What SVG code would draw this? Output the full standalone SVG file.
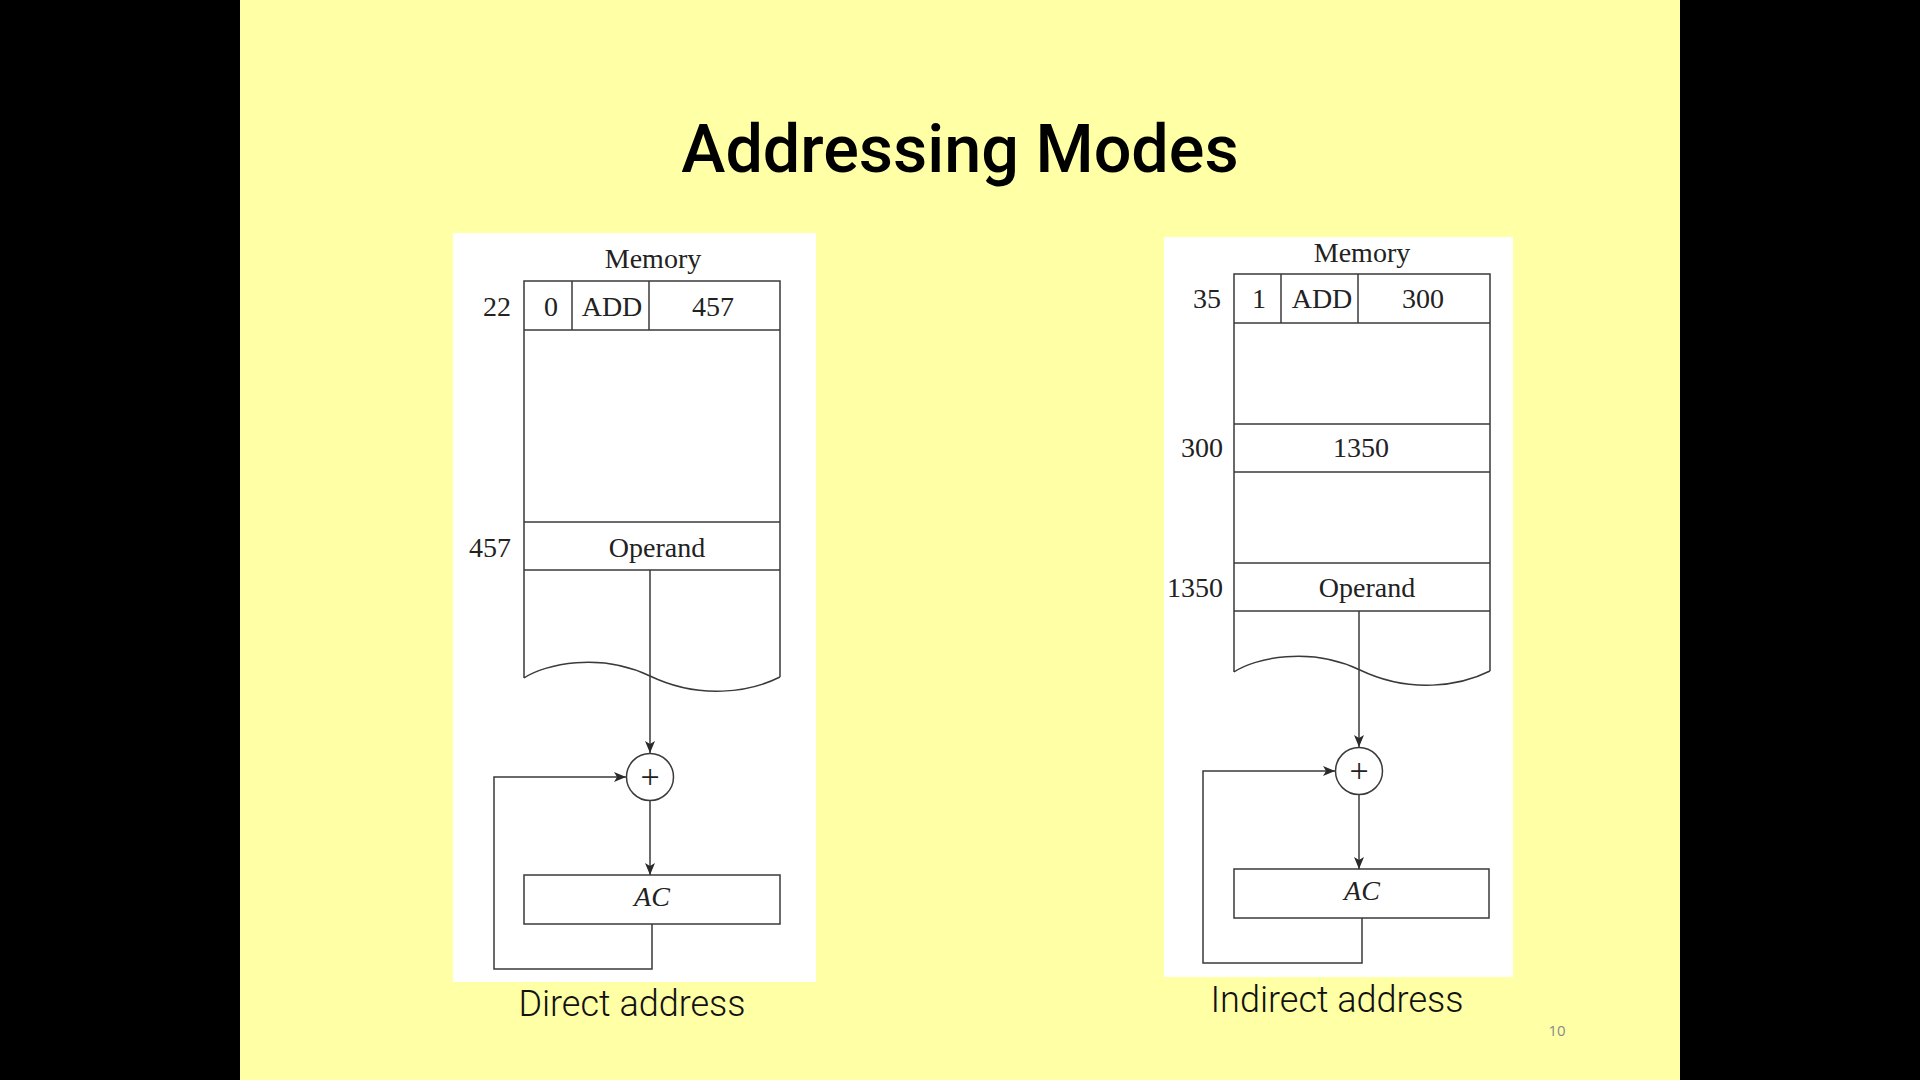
<svg xmlns="http://www.w3.org/2000/svg" width="1920" height="1080" viewBox="0 0 1920 1080">
<style>
.ln{fill:none;stroke:#3a3a3a;stroke-width:1.5}
.cell{fill:#fff;stroke:#3a3a3a;stroke-width:1.5}
.sf{font-family:"Liberation Serif",serif;font-size:28px;fill:#222}
.plus{font-family:"Liberation Serif",serif;font-size:34px;fill:#222;text-anchor:middle}
.mid{text-anchor:middle}
.end{text-anchor:end}
.cap{font-family:Roboto,"Liberation Sans",sans-serif;font-weight:300;font-size:36px;fill:#111;text-anchor:middle}
</style>
<defs>
<marker id="ah" viewBox="0 0 12 10" refX="12" refY="5" markerWidth="12" markerHeight="10" markerUnits="userSpaceOnUse" orient="auto">
<path d="M0,0 L12,5 L0,10 L3,5 Z" fill="#2a2a2a"/>
</marker>
</defs>
<rect width="1920" height="1080" fill="#ffffa6"/>
<rect x="0" y="0" width="240" height="1080" fill="#000"/>
<rect x="1680" y="0" width="240" height="1080" fill="#000"/>
<text x="960" y="172" font-family="Roboto,'Liberation Sans',sans-serif" font-weight="500" font-size="66.5" text-anchor="middle" fill="#000">Addressing Modes</text>

<!-- LEFT: Direct address -->
<g id="panel-direct">
<rect x="453" y="233" width="363" height="749" fill="#fff"/>
<text class="sf mid" x="653" y="268">Memory</text>
<g id="mem-direct">
<path class="ln" d="M524,678 L524,281 L780,281 L780,677 M524,678 C545,664 600,652 650,676 C700,700 750,692 780,677"/>
<line class="ln" x1="524" y1="330" x2="780" y2="330"/>
<line class="ln" x1="572" y1="281" x2="572" y2="330"/>
<line class="ln" x1="649" y1="281" x2="649" y2="330"/>
<line class="ln" x1="524" y1="522" x2="780" y2="522"/>
<line class="ln" x1="524" y1="570" x2="780" y2="570"/>
<text class="sf end" x="511" y="316">22</text>
<text class="sf mid" x="551" y="316">0</text>
<text class="sf mid" x="612" y="316">ADD</text>
<text class="sf mid" x="713" y="316">457</text>
<text class="sf end" x="511" y="557">457</text>
<text class="sf mid" x="657" y="557">Operand</text>
</g>
<g id="adder-direct">
<circle class="cell" cx="650" cy="777" r="23.5"/>
<text class="plus" x="650" y="788">+</text>
</g>
<g id="ac-direct">
<rect class="cell" x="524" y="875" width="256" height="49"/>
<text class="sf mid" x="652" y="906" font-style="italic">AC</text>
</g>
<text class="cap" x="632" y="1016">Direct address</text>
</g>

<!-- RIGHT: Indirect address -->
<g id="panel-indirect">
<rect x="1164" y="237" width="349" height="740" fill="#fff"/>
<text class="sf mid" x="1362" y="262">Memory</text>
<g id="mem-indirect">
<path class="ln" d="M1234,672 L1234,274 L1490,274 L1490,671 M1234,672 C1255,658 1310,646 1360,670 C1410,694 1460,686 1490,671"/>
<line class="ln" x1="1234" y1="323" x2="1490" y2="323"/>
<line class="ln" x1="1281" y1="274" x2="1281" y2="323"/>
<line class="ln" x1="1358" y1="274" x2="1358" y2="323"/>
<line class="ln" x1="1234" y1="424" x2="1490" y2="424"/>
<line class="ln" x1="1234" y1="472" x2="1490" y2="472"/>
<line class="ln" x1="1234" y1="563" x2="1490" y2="563"/>
<line class="ln" x1="1234" y1="611" x2="1490" y2="611"/>
<text class="sf end" x="1221" y="308">35</text>
<text class="sf mid" x="1259" y="308">1</text>
<text class="sf mid" x="1322" y="308">ADD</text>
<text class="sf mid" x="1423" y="308">300</text>
<text class="sf end" x="1223" y="457">300</text>
<text class="sf mid" x="1361" y="457">1350</text>
<text class="sf end" x="1223" y="597">1350</text>
<text class="sf mid" x="1367" y="597">Operand</text>
</g>
<g id="adder-indirect">
<circle class="cell" cx="1359" cy="771" r="23.5"/>
<text class="plus" x="1359" y="782">+</text>
</g>
<g id="ac-indirect">
<rect class="cell" x="1234" y="869" width="255" height="49"/>
<text class="sf mid" x="1362" y="900" font-style="italic">AC</text>
</g>
<text class="cap" x="1337" y="1012">Indirect address</text>
</g>

<g id="connectors">
<line class="ln" x1="650" y1="570" x2="650" y2="753" marker-end="url(#ah)"/>
<line class="ln" x1="650" y1="800" x2="650" y2="875" marker-end="url(#ah)"/>
<polyline class="ln" points="652,924 652,969 494,969 494,777 626,777" marker-end="url(#ah)"/>
<line class="ln" x1="1359" y1="611" x2="1359" y2="747" marker-end="url(#ah)"/>
<line class="ln" x1="1359" y1="795" x2="1359" y2="869" marker-end="url(#ah)"/>
<polyline class="ln" points="1362,918 1362,963 1203,963 1203,771 1335,771" marker-end="url(#ah)"/>
</g>

<text x="1557" y="1036" font-family="'Open Sans','Liberation Sans',sans-serif" font-size="15" fill="#8a8a8a" text-anchor="middle">10</text>
</svg>
